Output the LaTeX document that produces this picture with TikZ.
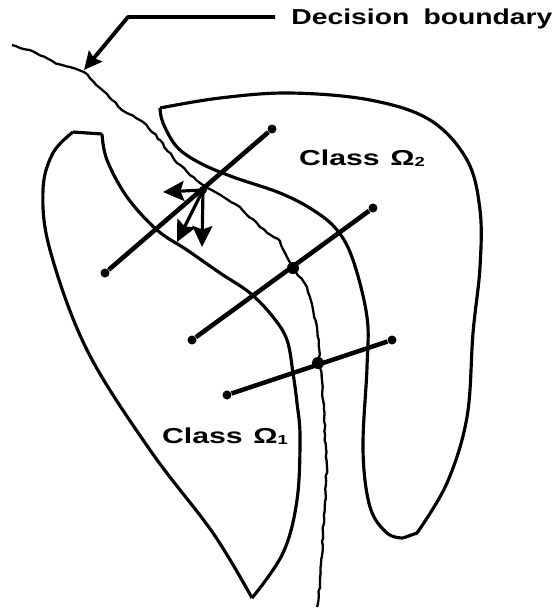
\documentclass[tikz,border=0pt]{standalone}
\usepackage{fontspec}
\setmainfont{Liberation Sans}
\usetikzlibrary{arrows.meta,decorations.pathmorphing}
\newcommand{\wide}[2][1.4]{\scalebox{#1}[1]{#2}}
\newcommand{\omsub}[1]{Ω\raisebox{-0.3pt}{\fontsize{7.5}{8}\selectfont #1}}

\begin{document}
\begin{tikzpicture}[x=0.02cm,y=-0.02cm,
  lbl/.style={font=\bfseries\fontsize{12.3}{14}\selectfont},
  edot/.style={circle,fill,inner sep=0pt,minimum size=0.18cm},
  bdot/.style={circle,fill,inner sep=0pt,minimum size=0.24cm},
  region/.style={line width=1.8pt,line join=round},
  transect/.style={line width=2.6pt},
  grad/.style={line width=1.8pt,-{Stealth[length=0.42cm,width=0.4cm,inset=0.07cm]}}]
\useasboundingbox (0,0) rectangle (560,609);
\pgfmathsetmacro{\dummy}{0}
\pgfmathsetseed{7}
% class regions
\draw[region] (73,132)--(102,134) plot[smooth,tension=0.6] coordinates{(102,134)(107,160)(127,197)(157,230)(187,250)(220,273)(250,293)(273,317)(287,340)(293,373)(297,403)(300,437)(297,500)(283,553)(252,598)}
  plot[smooth,tension=0.6] coordinates{(252,598)(213,533)(150,450)(87,350)(50,250)(43,190)(53,153)(73,132)};
\draw[region] plot[smooth,tension=0.6] coordinates{(160,108)(220,98)(290,93)(370,100)(430,120)(467,160)(480,210)(480,267)(473,333)(467,417)(447,483)(417,533)}
  -- (403,538) plot[smooth,tension=0.6] coordinates{(403,538)(387,533)(370,507)(363,450)(367,367)(367,317)(353,260)(337,230)(313,210)(280,193)(233,177)(200,163)(177,147)(163,123)(160,108)};
% decision boundary
\draw[line width=1.3pt,line join=round,decorate,decoration={random steps,segment length=2.5pt,amplitude=0.45pt}]
  (12,45)--(36,53)--(58,64)--(84,72)--(100,88)--(112,100)--(125,112)--(143,122)--(160,140)--(177,163)--(200,183)--(217,193)--(240,207)--(260,227)--(280,241)--(287,257)--(293,268)--(307,287)--(317,327)--(320,360)--(323,400)--(327,467)--(323,533)--(320,583)--(317,607);
% transects
\node[edot] (a1) at (105,273) {};
\node[edot] (b1) at (272,129) {};
\node[edot] (a2) at (192,340) {};
\node[edot] (b2) at (373,208) {};
\node[edot] (a3) at (227,395) {};
\node[edot] (b3) at (392,340) {};
\draw[transect] (a1)--(b1);
\draw[transect] (a2)--(b2);
\draw[transect] (a3)--(b3);
\node[bdot,minimum size=0.16cm] (p1) at (203,190) {};
\node[bdot] (p2) at (293,268) {};
\node[bdot] (p3) at (318,363) {};
% gradient arrows
\coordinate (g1) at (163,192);
\coordinate (g2) at (177,242);
\coordinate (g3) at (202,247);
\draw[grad] (p1.center)--(g1);
\draw[grad] (p1.center)--(g2);
\draw[grad] (p1.center)--(g3);
% labels
\node[lbl,anchor=west,inner sep=0pt] (db) at (291,19) {\wide[1.31]{Decision\hspace{0.5em}boundary}};
\node[lbl] (c2) at (362,158) {\wide{Class\hspace{0.35em}\omsub{2}}};
\node[lbl] (c1) at (225,436) {\wide{Class\hspace{0.35em}\omsub{1}}};
\coordinate (k1) at (275,17);
\coordinate (k2) at (128,17);
\coordinate (k3) at (84,70);
\draw[line width=2.2pt,line join=round,-{Stealth[length=0.36cm,width=0.34cm,inset=0.05cm]}] (k1)--(k2)--(k3);
\end{tikzpicture}
\end{document}
